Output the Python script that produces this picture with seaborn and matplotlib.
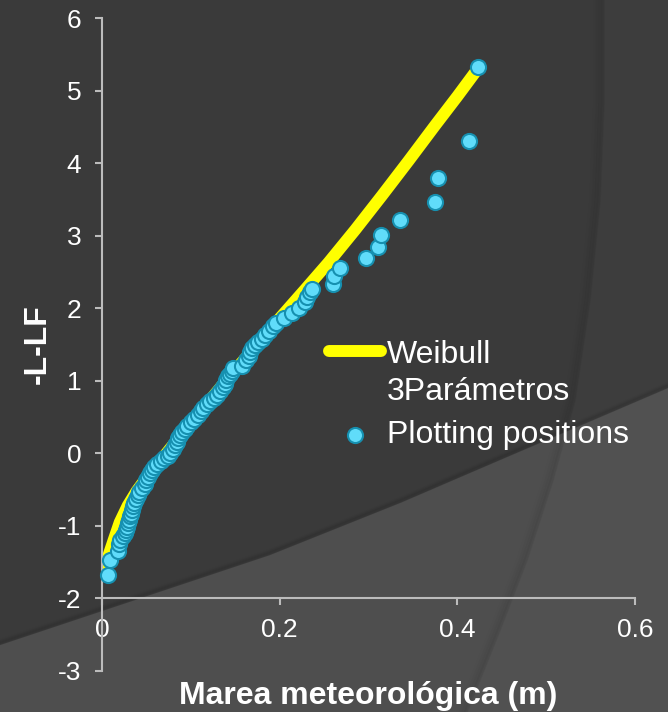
import matplotlib
matplotlib.use("Agg")
import matplotlib.pyplot as plt
import seaborn as sns
import pandas as pd

# Fitted Weibull (3 parameters) curve: storm surge (m) vs reduced variate -ln(-ln F)
weibull_x = [0.003, 0.0075, 0.013, 0.020, 0.029, 0.039, 0.051, 0.064, 0.077, 0.091,
             0.107, 0.126, 0.145, 0.165, 0.185, 0.205, 0.228, 0.255, 0.285, 0.315,
             0.345, 0.375, 0.400, 0.423]
weibull_y = [-1.65, -1.40, -1.20, -0.95, -0.72, -0.52, -0.32, -0.13, 0.07, 0.28,
             0.52, 0.80, 1.08, 1.36, 1.65, 1.93, 2.25, 2.63, 3.08, 3.55,
             4.03, 4.52, 4.92, 5.30]

# Empirical plotting positions
obs_x = [0.0064, 0.0094, 0.0176, 0.0195, 0.020, 0.024, 0.026, 0.027, 0.028, 0.029,
         0.030, 0.031, 0.0325, 0.034, 0.035, 0.036, 0.038, 0.040, 0.042, 0.045,
         0.048, 0.050, 0.052, 0.054, 0.056, 0.059, 0.062, 0.066, 0.070, 0.074,
         0.077, 0.080, 0.082, 0.084, 0.086, 0.088, 0.090, 0.093, 0.096, 0.100,
         0.104, 0.108, 0.111, 0.114, 0.118, 0.122, 0.126, 0.130, 0.133, 0.136,
         0.138, 0.140, 0.142, 0.144, 0.146, 0.148, 0.158, 0.162, 0.165, 0.167,
         0.169, 0.172, 0.176, 0.180, 0.184, 0.188, 0.192, 0.196, 0.205, 0.214,
         0.222, 0.229, 0.231, 0.234, 0.236, 0.260, 0.261, 0.268, 0.297, 0.311,
         0.314, 0.335, 0.375, 0.378, 0.413, 0.423]
obs_y = [-1.68, -1.47, -1.35, -1.25, -1.19, -1.14, -1.10, -1.05, -1.01, -0.96,
         -0.92, -0.87, -0.83, -0.78, -0.73, -0.68, -0.63, -0.58, -0.53, -0.48,
         -0.42, -0.37, -0.32, -0.27, -0.23, -0.19, -0.15, -0.11, -0.07, -0.03,
         0.01, 0.06, 0.11, 0.16, 0.21, 0.25, 0.30, 0.34, 0.38, 0.43,
         0.48, 0.53, 0.58, 0.63, 0.68, 0.72, 0.76, 0.81, 0.86, 0.91,
         0.96, 1.01, 1.06, 1.10, 1.14, 1.17, 1.20, 1.28, 1.34, 1.40,
         1.45, 1.49, 1.53, 1.58, 1.63, 1.69, 1.75, 1.80, 1.86, 1.93,
         2.00, 2.08, 2.15, 2.22, 2.27, 2.34, 2.45, 2.56, 2.69, 2.84,
         3.01, 3.21, 3.46, 3.80, 4.30, 5.33]

x_ticks = [0, 0.2, 0.4, 0.6]
x_tick_labels = ["0", "0.2", "0.4", "0.6"]
y_ticks = [-3, -2, -1, 0, 1, 2, 3, 4, 5, 6]

sns.set_theme(style="ticks")
plt.rcParams["font.family"] = ["Liberation Sans", "DejaVu Sans"]
plt.rcParams["axes.unicode_minus"] = False

W, H = 668, 712
fig = plt.figure(figsize=(W / 100, H / 100), dpi=100)
fig.patch.set_facecolor("#3a3a3a")

# Slide-style backdrop: a lighter sweep at the bottom and a soft arc on the right
bg = fig.add_axes([0, 0, 1, 1], zorder=-10)
bg.set_xlim(0, W)
bg.set_ylim(H, 0)
bg.axis("off")
sweep_x = [0, 90, 180, 270, 400, 500, 668]
sweep_y = [645, 615, 585, 555, 503, 460, 388]
bg.fill_between(sweep_x, sweep_y, H, color="#4e4e4e", lw=0)
for k, a in enumerate([0.06, 0.04, 0.02]):
    bg.plot(sweep_x, [v - 1.5 * (k + 1) for v in sweep_y], color="black", alpha=a, lw=2.5)
arc_y = [0, 100, 200, 300, 400, 480, 560, 630, 712]
arc_x = [604, 604, 600, 590, 575, 553, 527, 500, 467]
bg.fill_betweenx(arc_y, arc_x, W, color="white", alpha=0.02, lw=0)
for k, a in enumerate([0.05, 0.035, 0.02, 0.01]):
    bg.plot([v - 2.5 * (k + 0.5) for v in arc_x], arc_y, color="black", alpha=a, lw=3)

ax = fig.add_axes([102 / W, 1 - 671 / H, 533 / W, 653 / H])
ax.set_facecolor("none")

curve = pd.DataFrame({"x": weibull_x, "y": weibull_y})
points = pd.DataFrame({"x": obs_x, "y": obs_y})

sns.lineplot(data=curve, x="x", y="y", ax=ax, color="#ffff00", linewidth=8.6,
             sort=False, label="Weibull\n3Parámetros", solid_capstyle="round", zorder=2)
sns.scatterplot(data=points, x="x", y="y", ax=ax, s=118, color="#60dcfa",
                edgecolor="#1690b0", linewidth=1.5, label="Plotting positions",
                zorder=3, clip_on=False)

ax.set_xlim(0, 0.6)
ax.set_ylim(-3, 6)
ax.set_xticks(x_ticks)
ax.set_xticklabels(x_tick_labels)
ax.set_yticks(y_ticks)
ax.set_yticklabels([str(v) for v in y_ticks])

for side in ["top", "right"]:
    ax.spines[side].set_visible(False)
ax.spines["bottom"].set_position(("data", -2))
for side in ["left", "bottom"]:
    ax.spines[side].set_color("#bcbcbc")
    ax.spines[side].set_linewidth(1.5)
ax.tick_params(axis="both", colors="#bcbcbc", width=1.5, length=5, direction="out",
               labelcolor="white", labelsize=19)
ax.tick_params(axis="y", pad=10)
ax.tick_params(axis="x", pad=9)

ax.set_xlabel("Marea meteorológica (m)", color="white", fontsize=23, fontweight="bold")
ax.xaxis.set_label_coords(0.5, -0.016)
ax.set_ylabel("-L-LF", color="white", fontsize=23, fontweight="bold")
ax.yaxis.set_label_coords(-0.092, 0.5)

handles, labels = ax.get_legend_handles_labels()
leg = ax.legend(handles, labels, loc="upper left",
                bbox_to_anchor=(329 / W, 1 - 340 / H), bbox_transform=fig.transFigure,
                frameon=False, fontsize=23, labelcolor="white", borderpad=0,
                borderaxespad=0, handlelength=1.63, handletextpad=0.19,
                labelspacing=0.42)
leg.get_texts()[0].set_linespacing(1.3)
# keep the line swatch level with the first text line
line_h = leg.legend_handles[0]
line_h.set_ydata([v + 16.5 for v in line_h.get_ydata()])

fig.savefig("out.png", dpi=100, facecolor=fig.get_facecolor())
